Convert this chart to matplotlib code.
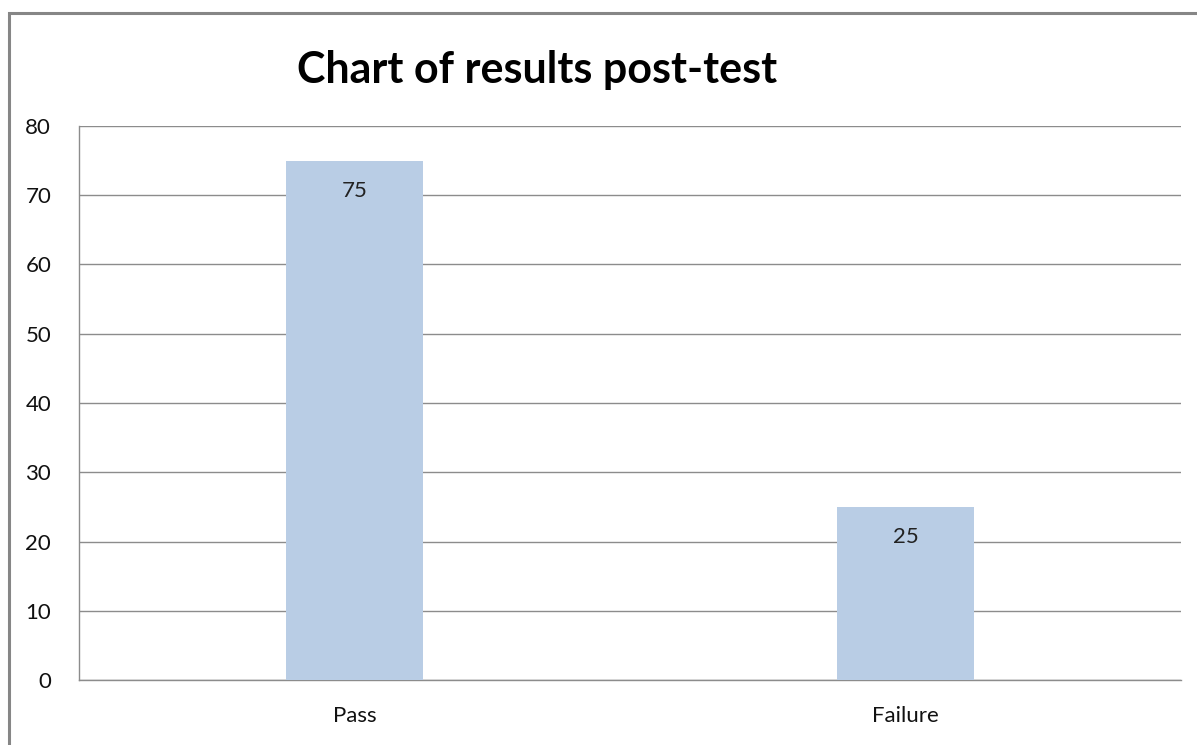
import matplotlib
matplotlib.use("Agg")
import matplotlib.pyplot as plt
from matplotlib.patches import Rectangle

categories = ["Pass", "Failure"]
values = [75, 25]
yticks = [0, 10, 20, 30, 40, 50, 60, 70, 80]
title = "Chart of results post-test"

plt.rcParams['font.family'] = ['Lato', 'DejaVu Sans']

W, H = 1197, 745
fig = plt.figure(figsize=(W / 100, H / 100), dpi=100)
fig.patch.set_facecolor("white")

# outer chart border
fig.patches.append(Rectangle((9 / W, -0.05), 1.2, 1 - 13 / H + 0.05,
                             transform=fig.transFigure, fill=False,
                             edgecolor="#868686", linewidth=2.2))

ax = fig.add_axes([79 / W, 1 - 680 / H, (1181 - 79) / W, (680 - 126) / H])
x = list(range(len(categories)))
bars = ax.bar(x, values, width=0.25, color="#B9CDE5", zorder=3)
ax.set_xlim(-0.5, len(categories) - 0.5)
ax.set_ylim(0, 80)
ax.set_yticks(yticks)
ax.set_xticks(x)
ax.set_xticklabels(categories)
ax.yaxis.grid(True, color="#8C8C8C", linewidth=1.0, zorder=0)
for s in ["top", "right"]:
    ax.spines[s].set_visible(False)
for s in ["left", "bottom"]:
    ax.spines[s].set_color("#8C8C8C")
    ax.spines[s].set_linewidth(1.0)
ax.tick_params(axis="both", length=0, labelsize=16, colors="#111111")
ax.tick_params(axis="y", pad=20)
ax.tick_params(axis="x", pad=19)

for b, v in zip(bars, values):
    ax.annotate(f"{v}", (b.get_x() + b.get_width() / 2, v),
                xytext=(0, -30), textcoords="offset pixels",
                ha="center", va="center", fontsize=16, color="#222222")

fig.text(537 / W, 1 - 70 / H, title, ha="center", va="center",
         fontsize=31, fontweight="bold", color="black")

fig.savefig("out.png", dpi=100)
